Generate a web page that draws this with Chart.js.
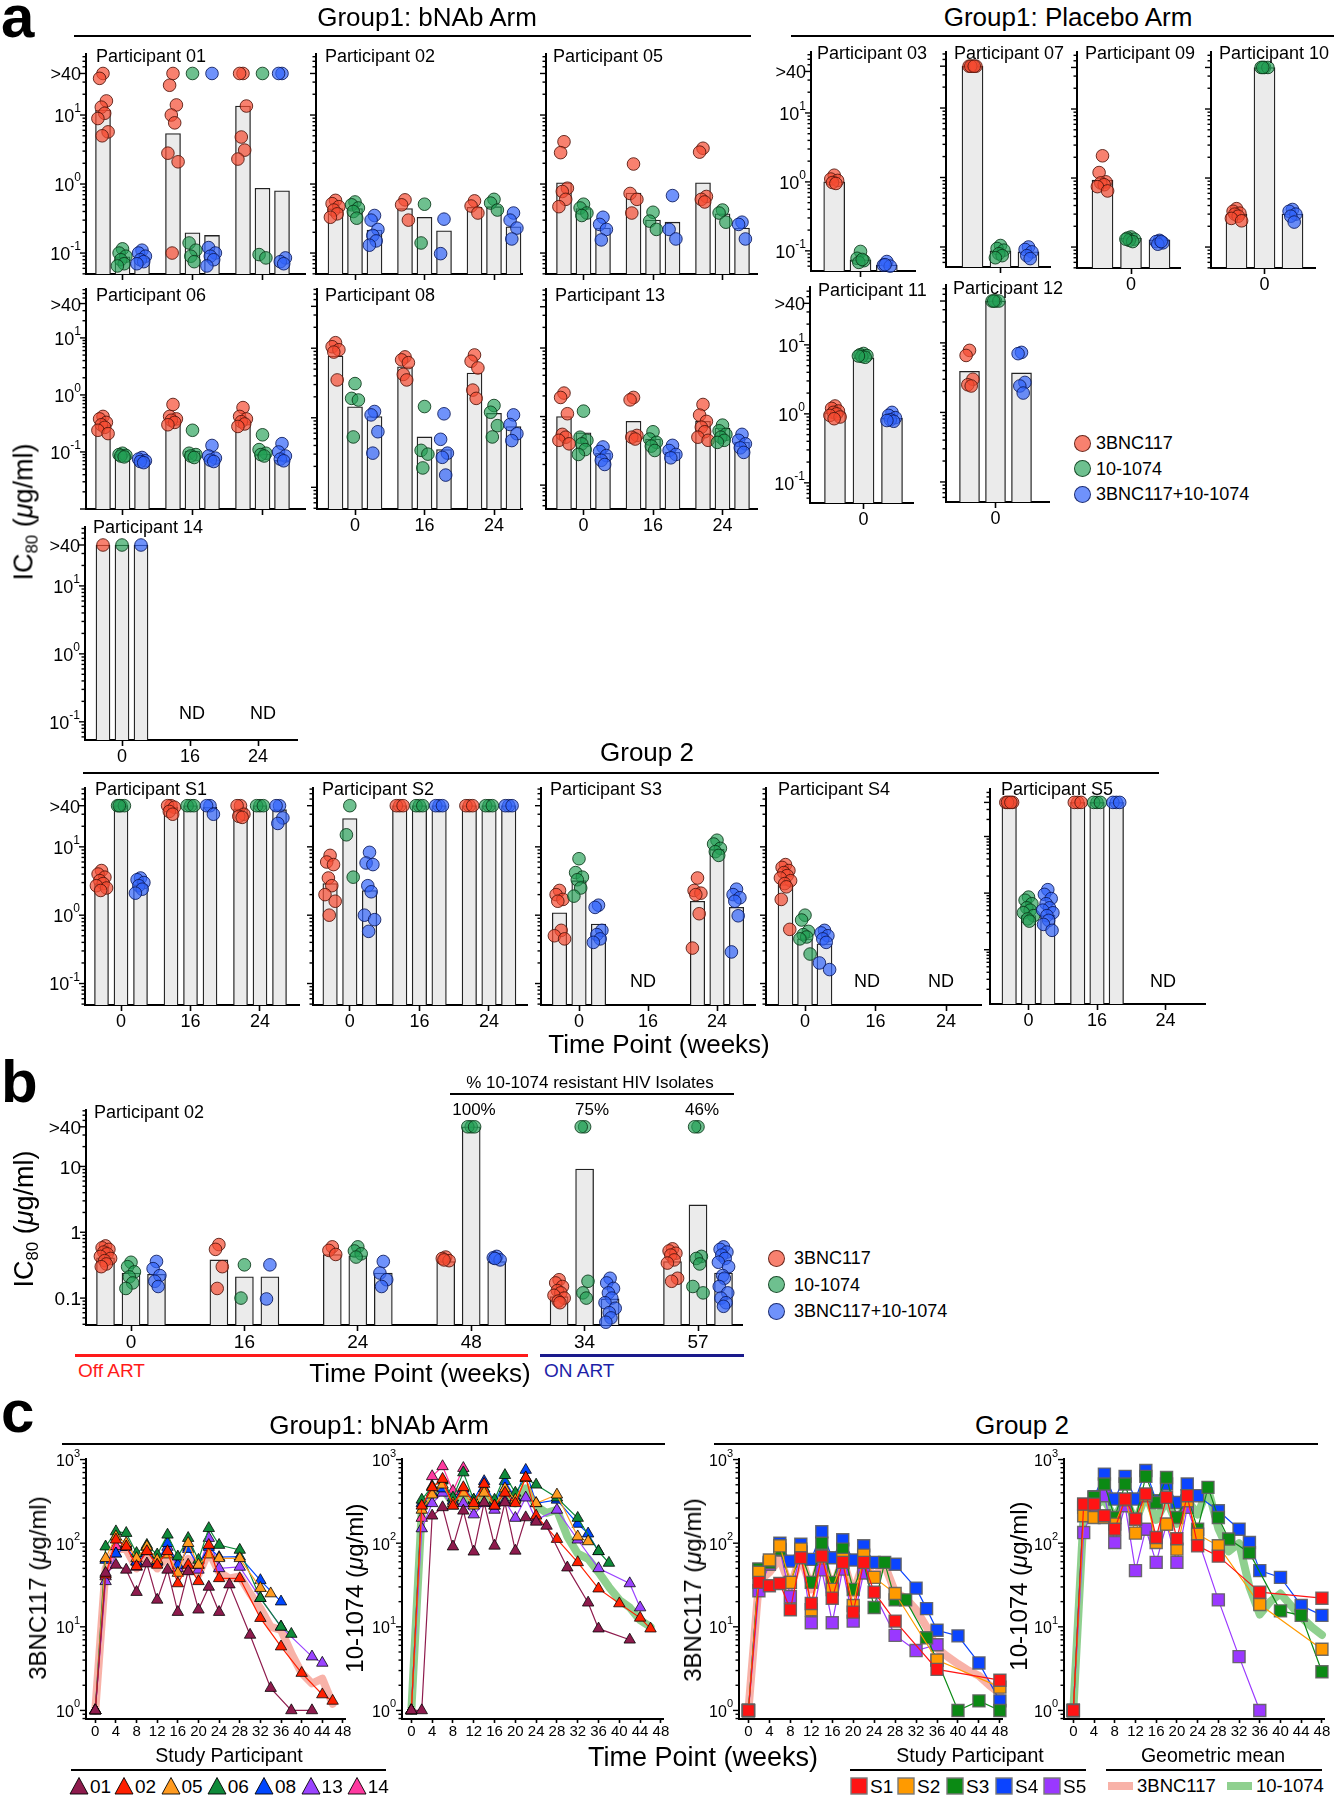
<!DOCTYPE html>
<html><head><meta charset="utf-8">
<script src="https://cdn.jsdelivr.net/npm/chart.js@4.4.1/dist/chart.umd.min.js"></script>
<style>
html,body{margin:0;padding:0;background:#fff}
body{position:relative;width:1338px;height:1800px;overflow:hidden;font-family:'Liberation Sans',Arial,Helvetica,sans-serif;color:#000}
canvas{position:absolute}
.t{position:absolute;white-space:nowrap;line-height:1;z-index:5}
.r{position:absolute;z-index:5}
</style></head><body>
<script>
// ===================== DATA =====================
const ANTIBODIES = ['3BNC117', '10-1074', '3BNC117+10-1074'];
const WEEK_LABELS_A = ['0', '16', '24'];
const WEEK_LABELS_PLACEBO = ['0'];
const WEEK_LABELS_B = ['0', '16', '24', '48', '34', '57'];
const RESISTANT_PCT = ['100%', '75%', '46%'];
const WEEK_TICKS_C = [0, 4, 8, 12, 16, 20, 24, 28, 32, 36, 40, 44, 48];
const SAMPLE_WEEKS_C = [0, 2, 4, 6, 8, 10, 12, 14, 16, 18, 20, 22, 24, 26, 28, 30, 32, 34, 36, 38, 40, 42, 44, 46, 48];
const Y_LABELS_A = [{v: 40, t: '>40'}, {v: 10, t: '10', e: '1'}, {v: 1, t: '10', e: '0'}, {v: 0.1, t: '10', e: '-1'}];
const Y_LABELS_B = [{v: 40, t: '>40'}, {v: 10, t: '10'}, {v: 1, t: '1'}, {v: 0.1, t: '0.1'}];
const Y_LABELS_C = [{v: 1000, t: '10', e: '3'}, {v: 100, t: '10', e: '2'}, {v: 10, t: '10', e: '1'}, {v: 1, t: '10', e: '0'}];

// Panel a, Group 1 bNAb arm: IC80 (ug/ml) per isolate, index = time point (wk 0, 16, 24)
const P01_3BNC117 = [[40,34,16,13,10.6,8.9,5.7,5.0],[40,27,14,10,7.7,2.8,2.1,0.1],[40,40,13.5,4.8,3.1,2.3]];
const P01_10_1074 = [[0.115,0.1,0.09,0.08,0.07,0.065],[40,0.14,0.11,0.09,0.075],[40,0.095,0.085]];
const P01_COMBO   = [[0.11,0.1,0.09,0.08,0.075,0.07],[40,0.12,0.1,0.09,0.08,0.065],[40,40,0.085,0.075,0.07]];
const P01_BARS    = [[11.8,0.088,0.085],[5.4,0.197,0.18],[13.5,0.87,0.8]];

const P02_3BNC117 = [[0.58,0.52,0.47,0.42,0.37,0.33],[0.59,0.5,0.3],[0.57,0.48,0.38]];
const P02_10_1074 = [[0.55,0.5,0.45,0.4,0.32],[0.51,0.14],[0.6,0.53,0.42]];
const P02_COMBO   = [[0.35,0.3,0.22,0.18,0.15,0.13],[0.31,0.098],[0.38,0.3,0.23,0.16]];
const P02_BARS    = [[0.44,0.44,0.215],[0.44,0.33,0.21],[0.46,0.47,0.24]];

const P05_3BNC117 = [[4.1,2.85,0.87,0.78,0.6,0.47],[1.95,0.73,0.6,0.38],[3.3,2.9,0.66,0.6,0.55]];
const P05_10_1074 = [[0.51,0.45,0.38,0.35],[0.39,0.29,0.22],[0.42,0.38,0.28]];
const P05_COMBO   = [[0.33,0.26,0.22,0.155],[0.68,0.22,0.16],[0.28,0.26,0.16]];
const P05_BARS    = [[1.04,0.44,0.23],[0.74,0.3,0.28],[1.04,0.37,0.23]];

const P06_3BNC117 = [[0.42,0.38,0.33,0.3,0.27,0.24,0.21],[0.68,0.42,0.38,0.36,0.33,0.3],[0.6,0.42,0.38,0.34,0.31,0.28]];
const P06_10_1074 = [[0.095,0.09,0.087,0.085,0.082],[0.24,0.095,0.09,0.085,0.08],[0.2,0.11,0.095,0.09,0.085]];
const P06_COMBO   = [[0.08,0.075,0.07,0.068,0.065],[0.13,0.085,0.078,0.072,0.068],[0.14,0.1,0.085,0.075,0.07]];
const P06_BARS    = [[0.3,0.092,0.071],[0.34,0.104,0.073],[0.34,0.092,0.071]];

const P08_3BNC117 = [[12,10.5,9.5,8.8,3.5],[7.5,6.8,6.2,4.2,3.5],[8,6.5,5.2,2.5,1.9]];
const P08_10_1074 = [[3.1,1.9,1.8,0.53],[1.45,0.34,0.3,0.19],[1.5,1.2,0.77,0.53]];
const P08_COMBO   = [[1.23,1.1,0.63,0.31],[1.14,0.49,0.31,0.27,0.15],[1.1,0.8,0.59,0.47]];
const P08_BARS    = [[7.7,1.44,1.04],[5.4,0.53,0.35],[4.4,1.16,0.75]];

const P13_3BNC117 = [[2.2,1.9,1.1,0.55,0.5,0.45,0.4],[1.9,1.75,0.53,0.5,0.47],[1.5,1.05,0.85,0.7,0.6,0.5,0.45]];
const P13_10_1074 = [[1.2,0.5,0.45,0.4,0.33,0.28],[0.6,0.47,0.42,0.37,0.32],[0.75,0.62,0.55,0.5,0.45,0.42]];
const P13_COMBO   = [[0.36,0.31,0.27,0.23,0.2],[0.38,0.32,0.28,0.25],[0.55,0.45,0.4,0.35,0.3]];
const P13_BARS    = [[1.0,0.58,0.29],[0.85,0.47,0.3],[0.85,0.68,0.42]];

const P14_3BNC117 = [[40], null, null];
const P14_10_1074 = [[40], null, null];
const P14_COMBO   = [[40], null, null];
const P14_BARS    = [[40,40,40], null, null];

// Panel a, Group 1 placebo arm (week 0 only)
const P03_3BNC117 = [1.25,1.1,1.05,0.98,0.95];
const P03_10_1074 = [0.098,0.078,0.072,0.068,0.075];
const P03_COMBO   = [0.07,0.062,0.06,0.063];
const P03_BARS    = [1.0,0.074,0.062];
const P07_3BNC117 = [40,40,40,40,40];
const P07_10_1074 = [0.105,0.095,0.09,0.08,0.075,0.07];
const P07_COMBO   = [0.1,0.092,0.085,0.075,0.068];
const P07_BARS    = [40,0.088,0.085];
const P09_3BNC117 = [2.1,1.2,0.88,0.85,0.8,0.75,0.65];
const P09_10_1074 = [0.14,0.135,0.13,0.125,0.12,0.13];
const P09_COMBO   = [0.125,0.12,0.115,0.11,0.12];
const P09_BARS    = [0.93,0.135,0.127];
const P10_3BNC117 = [0.36,0.33,0.31,0.3,0.28,0.26,0.24];
const P10_10_1074 = [40,40,40,40];
const P10_COMBO   = [0.35,0.33,0.3,0.28,0.23];
const P10_BARS    = [0.3,40,0.3];
const P11_3BNC117 = [1.3,1.2,1.1,1.05,1.0,0.95,0.9,0.85];
const P11_10_1074 = [7.5,7.2,7.0,6.8,6.6,6.9];
const P11_COMBO   = [1.05,0.95,0.88,0.82,0.78,0.8];
const P11_BARS    = [1.04,6.5,0.87];
const P12_3BNC117 = [7.8,6.6,3.0,2.5,2.4];
const P12_10_1074 = [40,40,40,40];
const P12_COMBO   = [7.3,7.0,2.7,2.4,1.9];
const P12_BARS    = [3.9,40,3.7];

// Panel a, Group 2 (wk 0, 16, 24); null = ND
const S1_3BNC117 = [[4.5,4.0,3.6,3.2,2.9,2.7,2.5,2.3],[40,40,38,33,30],[40,40,30,28,27]];
const S1_10_1074 = [[40,40,40,40],[40,40,40],[40,40,40]];
const S1_COMBO   = [[3.5,3.3,3.0,2.7,2.4,2.1],[40,40,30],[40,40,26.5,22]];
const S1_BARS    = [[2.9,40,2.8],[38,40,38],[36,40,35]];
const S2_3BNC117 = [[7.5,6,5.5,3.5,2.7,2.0,1.6,1.0],[40,40,40],[40,40,40]];
const S2_10_1074 = [[40,15,3.6],[40,40,40],[40,40,40]];
const S2_COMBO   = [[8.3,5.8,5.5,2.7,2.2,1.0,0.86,0.58],[40,40,40],[40,40,40]];
const S2_BARS    = [[2.9,26,2.3],[40,40,40],[40,40,40]];
const S3_3BNC117 = [[2.3,2.0,1.7,1.6,0.6,0.5,0.45],null,[3.5,2.3,2.1,2.0,1.05,0.33]];
const S3_10_1074 = [[6.7,4.2,3.6,3.3,2.5,1.9],null,[12.5,11,9.5,8.5,7.5]];
const S3_COMBO   = [[1.4,1.3,0.6,0.52,0.45,0.4],null,[2.4,2.0,1.8,1.6,0.98,0.29]];
const S3_BARS    = [[1.08,3.2,0.74],null,[1.6,9.2,1.3]];
const S4_3BNC117 = [[5.5,5.0,4.5,4.2,3.8,3.5,3.2,2.9,2.6,1.7,0.62],null,null];
const S4_10_1074 = [[1.0,0.85,0.58,0.52,0.48,0.45,0.27],null,null];
const S4_COMBO   = [[0.6,0.55,0.5,0.45,0.4,0.2,0.16],null,null];
const S4_BARS    = [[2.8,0.45,0.38],null,null];
const S5_3BNC117 = [[40,40,40,40,40],[40,40,40],null];
const S5_10_1074 = [[0.85,0.75,0.65,0.55,0.5,0.45,0.4,0.35,0.32],[40,40,40],null];
const S5_COMBO   = [[1.15,0.95,0.8,0.65,0.55,0.5,0.45,0.4,0.33,0.28,0.22],[40,40,40],null];
const S5_BARS    = [[40,0.4,0.41],[40,40,40],null];

// Panel b, participant 02 (wk 0,16,24,48 off ART; 34,57 on ART)
const B_3BNC117 = [[0.62,0.58,0.55,0.5,0.47,0.43,0.4,0.37,0.33,0.3],[0.65,0.55,0.3,0.14],[0.6,0.53,0.46],[0.42,0.4,0.37,0.38],[0.19,0.17,0.15,0.13,0.12,0.11,0.1,0.09,0.085],[0.56,0.52,0.48,0.45,0.38,0.34,0.2,0.18]];
const B_10_1074 = [[0.35,0.3,0.25,0.21,0.17,0.14],[0.32,0.1],[0.6,0.52,0.47,0.42],[40,40,40],[40,40,0.18,0.12,0.1],[40,40,0.43,0.4,0.33,0.15,0.12]];
const B_COMBO   = [[0.36,0.28,0.22,0.18,0.15],[0.32,0.097],[0.36,0.24,0.19,0.15],[0.43,0.41,0.38,0.4],[0.2,0.17,0.14,0.12,0.1,0.085,0.07,0.06,0.05,0.043],[0.6,0.55,0.5,0.45,0.4,0.35,0.3,0.22,0.2,0.15,0.12,0.1,0.085,0.075]];
const B_BARS    = [[0.41,0.24,0.23],[0.38,0.21,0.21],[0.46,0.44,0.24],[0.36,40,0.36],[0.105,9.1,0.097],[0.36,2.6,0.24]];

// Panel c: serum levels (ug/ml) at SAMPLE_WEEKS_C; null = no sample
const N = null;
const C1_P01 = [1,44,55,48,26,57,21,48,15,46,16,30,15,32,N,8,N,1.85,N,1.0,N,1.0,N,N,N];
const C1_P02 = [1,42,110,91,53,80,55,80,33,55,35,95,38,N,38,N,12.7,N,5.8,N,2.8,N,1.55,1.3,N];
const C1_P05 = [1,66,120,100,66,91,63,73,44,100,55,73,66,N,66,N,29,25,N,N,N,N,N,N,N];
const C1_P06 = [1,91,138,132,76,95,73,126,69,115,63,151,95,N,83,N,22,N,10,8.2,N,N,N,N,N];
const C1_P08 = [1,63,75,90,60,80,60,100,55,85,55,90,68,N,69,N,36,N,20,N,N,N,N,N,N];
const C1_P13 = [1,35,75,90,60,90,60,90,50,90,48,115,50,N,52,N,22,N,10,N,N,4.4,3.7,N,N];
const C1_P14 = [1,40,92,95,52,80,N,N,N,N,N,N,N,N,N,N,N,N,N,N,N,N,N,N,N];
const C1_MEAN = [1,50,85,85,50,70,50,70,42,65,42,80,45,38,40,25,16.7,10,9.2,4.8,2.8,2.1,2.4,1.2,N];

const C2_P01 = [1,1,213,268,91,244,79,306,93,306,81,203,180,161,N,51,N,19.4,9.5,N,N,7.0,N,N,N];
const C2_P02 = [1,280,465,585,280,465,300,510,280,400,300,610,213,N,112,N,59,N,28.6,N,19,N,12.8,9.5,N];
const C2_P05 = [1,250,380,500,300,400,280,400,280,450,330,600,300,N,380,N,120,105,N,N,N,N,N,N,N];
const C2_P06 = [1,330,480,560,350,700,330,450,330,650,400,600,500,N,350,N,200,N,80,58,N,N,N,N,N];
const C2_P08 = [1,300,400,450,320,450,330,550,300,550,350,750,300,N,330,N,170,130,80,N,N,N,N,N,N];
const C2_P13 = [1,150,300,400,280,300,220,300,250,320,200,350,190,N,250,N,110,N,50,N,N,33,17,N,N];
const C2_P14 = [1,200,630,830,420,790,N,N,N,N,N,N,N,N,N,N,N,N,N,N,N,N,N,N,N];
const C2_MEAN = [1,250,380,450,300,420,280,400,280,420,300,450,280,230,250,120,75,65,45,30,21,17,12,10,N];

const C3_S1 = [1,34,31,33,16,67,19,70,22,59,15,59,26,N,11.7,N,N,N,3.1,N,N,N,N,N,2.3];
const C3_S2 = [1,45,63,93,34,85,16,70,28,64,18,72,39,N,25,N,N,N,4,N,N,N,N,N,1.9];
const C3_S3 = [1,49,59,85,34,77,34,100,34,85,28,59,17,59,21,21,N,7.4,4,N,1.0,N,1.3,N,1.0];
const C3_S4 = [1,49,59,100,61,97,64,137,67,110,63,93,59,N,56,N,29,16.5,9.1,N,7.8,N,3.7,N,1.3];
const C3_S5 = [1,27,56,83,23,79,11.2,48,11.2,49,11.7,44,N,N,7.9,N,5.2,N,6.1,N,N,N,N,N,N];
const C3_MEAN = [1,35,45,65,30,70,28,72,28,65,25,60,40,55,26,22,16,10,5.5,4.4,3.6,3,2.6,2.0,1.6];

const C4_S1 = [1,293,293,213,147,337,194,388,117,353,113,370,93,N,70,N,N,N,26,N,N,N,N,N,22];
const C4_S2 = [1,213,203,203,169,330,132,370,102,169,85,322,128,N,93,N,N,N,18.5,N,N,N,N,N,5.4];
const C4_S3 = [1,268,353,510,203,510,194,630,307,610,203,370,147,465,203,112,N,77,N,N,15.5,N,13.7,N,2.9];
const C4_S4 = [1,293,360,670,337,630,337,740,322,510,307,510,370,N,244,N,147,102,47,N,39,N,18,N,13.7];
const C4_S5 = [1,134,280,370,102,280,47,147,59,169,59,268,N,N,21,N,4.4,N,1.0,N,N,N,N,N,N];
const C4_MEAN = [1,230,280,330,200,350,180,380,190,330,170,330,220,450,150,80,100,30,14,20,25,18,13,10,8];

const G1_IDS = ['01', '02', '05', '06', '08', '13', '14'];
const G2_IDS = ['S1', 'S2', 'S3', 'S4', 'S5'];

// ===================== STYLE / LAYOUT =====================
const FONT = "'Liberation Sans', Arial, Helvetica, sans-serif";
Chart.defaults.font.family = FONT;
Chart.defaults.color = '#000';
const LW = 60, BH = 34, PT = 16, PR = 16;
const G1_COLORS = ['#8e1b4d', '#ff2000', '#ff9b21', '#0f8a3a', '#0047ff', '#9a44ff', '#ff3aa0'];
const G2_COLORS = ['#ff1414', '#ff9a00', '#0b8a14', '#0b44ff', '#9a38ff'];
const PT_STYLE = [
  {bg: 'rgba(245,75,50,0.70)', bd: 'rgba(80,20,10,0.85)'},
  {bg: 'rgba(35,160,85,0.66)', bd: 'rgba(10,55,25,0.85)'},
  {bg: 'rgba(50,100,250,0.70)', bd: 'rgba(10,25,90,0.85)'}
];
const JIT = [0, -1, 1, -0.5, 0.5, -1.5, 1.5, -0.25, 0.25, -1.25, 1.25, -0.75, 0.75, 0];

const logAxisPlugin = {
  id: 'logAxis',
  afterDraw(chart) {
    const o = chart.canvas._logAxis; if (!o) return;
    const s = chart.scales.y, ctx = chart.ctx, x0 = chart.chartArea.left;
    ctx.save();
    ctx.strokeStyle = '#000'; ctx.lineWidth = 1.4;
    const e0 = Math.floor(Math.log10(s.min)), e1 = Math.ceil(Math.log10(s.max));
    const mv = o.labels.map(l => l.v);
    for (let e = e0; e <= e1; e++) {
      for (let m = 1; m <= 9; m++) {
        const v = m * Math.pow(10, e);
        if (v < s.min * 0.9999 || v > s.max * 1.0001) continue;
        const y = s.getPixelForValue(v);
        const major = m === 1 || mv.some(q => Math.abs(q - v) < v * 1e-6);
        const len = major ? o.major : o.minor;
        ctx.beginPath(); ctx.moveTo(x0 - len, y); ctx.lineTo(x0, y); ctx.stroke();
      }
    }
    if (o.show) {
      ctx.fillStyle = '#000'; ctx.textBaseline = 'middle';
      const xr = x0 - o.gap;
      for (const L of o.labels) {
        const y = s.getPixelForValue(L.v);
        let xr2 = xr;
        if (L.e) {
          ctx.font = o.es + 'px ' + FONT; ctx.textAlign = 'right';
          ctx.fillText(L.e, xr, y + o.eDy);
          xr2 = xr - ctx.measureText(L.e).width;
        }
        ctx.font = o.fs + 'px ' + FONT; ctx.textAlign = 'right';
        ctx.fillText(L.t, xr2, y + o.bDy);
      }
    }
    ctx.restore();
  }
};
Chart.register(logAxisPlugin);

function canvasAt(axisX, top, right, bottom) {
  axisX = Math.round(axisX); top = Math.round(top); right = Math.round(right); bottom = Math.round(bottom);
  const c = document.createElement('canvas');
  const w = right - axisX + LW + PR, h = bottom - top + PT + BH;
  c.width = w; c.height = h;
  c.style.left = (axisX - LW) + 'px'; c.style.top = (top - PT) + 'px';
  c.style.width = w + 'px'; c.style.height = h + 'px';
  document.body.appendChild(c);
  return c;
}
function yLog(min, max) {
  return {type: 'logarithmic', min, max, ticks: {display: false}, grid: {display: false, drawTicks: false},
    border: {display: true, color: '#000', width: 2}, afterFit: s => { s.width = LW; }};
}
function xLin(min, max, tickVals, labels, fs, tl) {
  return {type: 'linear', min, max, offset: false,
    afterBuildTicks: s => { s.ticks = tickVals.map(v => ({value: v})); },
    ticks: {display: !!labels, autoSkip: false, maxRotation: 0, minRotation: 0, padding: 0,
      font: {size: fs, family: FONT}, color: '#000', callback: (v, i) => (labels ? labels[i] : '')},
    grid: {display: true, offset: false, drawOnChartArea: false, drawTicks: true, tickLength: tl, tickColor: '#000', tickWidth: 1.6},
    border: {display: true, color: '#000', width: 2},
    afterFit: s => { s.height = BH; }};
}
function baseOpts(xs, ys) {
  return {responsive: false, animation: false, devicePixelRatio: 1, events: [],
    layout: {padding: {top: PT, right: PR, left: 0, bottom: 0}, autoPadding: false},
    plugins: {legend: {display: false}, tooltip: {enabled: false}},
    scales: {x: xs, y: ys}};
}

function barPanel(sp, series, bars, xLabels, yLabels, axisFs) {
  const c = canvasAt(sp.axisX, sp.top, sp.right, sp.bottom);
  const u = sp.unit, offU = sp.off / u, jit = 3.4 / u;
  const barData = [];
  bars.forEach((b, g) => { if (b) b.forEach((v, k) => barData.push({x: g + (k - 1) * offU, y: v})); });
  const ds = [{type: 'bar', data: barData, backgroundColor: '#ebebeb', borderColor: '#222', borderWidth: 1.3,
    borderSkipped: 'start', barThickness: sp.bw, order: 10}];
  series.forEach((s, k) => {
    const pts = [];
    s.forEach((arr, g) => { if (arr) arr.forEach((v, i) => pts.push({x: g + (k - 1) * offU + JIT[i % JIT.length] * jit, y: v})); });
    ds.push({type: 'scatter', data: pts, pointRadius: 6.3, pointBackgroundColor: PT_STYLE[k].bg,
      pointBorderColor: PT_STYLE[k].bd, pointBorderWidth: 1, clip: false, order: 3 - k});
  });
  const ticks = bars.map((b, g) => g);
  c._logAxis = {labels: yLabels || Y_LABELS_A, show: !!yLabels, major: 6, minor: 3.5, gap: 5,
    fs: axisFs || 18, es: 12, bDy: 2, eDy: -6};
  new Chart(c, {type: 'scatter', data: {datasets: ds},
    options: baseOpts(xLin((sp.axisX - sp.g0) / u, (sp.right - sp.g0) / u, ticks, xLabels, axisFs || 18, 6), yLog(sp.yMin, sp.yMax))});
}

function linePanel(sp, series, colors, style, mean, meanColor) {
  const c = canvasAt(sp.axisX, sp.top, sp.right, sp.bottom);
  const toPts = arr => SAMPLE_WEEKS_C.map((w, i) => ({x: w, y: arr[i]})).filter(p => p.y !== null && p.y !== undefined);
  const ds = [];
  series.forEach((arr, k) => {
    ds.push({type: 'line', data: toPts(arr), borderColor: colors[k], borderWidth: 1.2, tension: 0,
      pointStyle: style, pointRadius: style === 'rect' ? 8.5 : 6.6, pointBackgroundColor: colors[k],
      pointBorderColor: style === 'rect' ? 'rgba(95,95,95,0.9)' : 'rgba(0,0,0,0.85)', pointBorderWidth: style === 'rect' ? 1.4 : 0.9,
      clip: false, order: k + 1});
  });
  ds.push({type: 'line', data: toPts(mean), borderColor: meanColor, borderWidth: 8, tension: 0, pointRadius: 0,
    borderJoinStyle: 'round', borderCapStyle: 'round', spanGaps: true, clip: false, order: 50});
  c._logAxis = {labels: Y_LABELS_C, show: true, major: 6, minor: 3.5, gap: 6, fs: 16, es: 11, bDy: 2, eDy: -6};
  new Chart(c, {type: 'scatter', data: {datasets: ds},
    options: baseOpts(xLin(sp.xmin, sp.xmax, WEEK_TICKS_C, WEEK_TICKS_C.map(String), 15, 4), yLog(sp.yMin, sp.yMax))});
}

// ---------- text helpers ----------
function T(html, x, y, size, o) {
  o = o || {};
  const d = document.createElement('div');
  d.className = 't'; d.innerHTML = html;
  d.style.left = x + 'px'; d.style.top = y + 'px'; d.style.fontSize = size + 'px';
  if (o.bold) d.style.fontWeight = 'bold';
  if (o.color) d.style.color = o.color;
  const a = o.align || 'left';
  const tx = a === 'center' ? '-50%' : a === 'right' ? '-100%' : '0';
  d.style.transform = 'translate(' + tx + ',-50%)' + (o.rot ? ' rotate(' + o.rot + 'deg)' : '');
  document.body.appendChild(d);
}
function HL(x1, x2, y, th, color) {
  const d = document.createElement('div'); d.className = 'r';
  d.style.left = x1 + 'px'; d.style.top = (y - th / 2) + 'px'; d.style.width = (x2 - x1) + 'px';
  d.style.height = th + 'px'; d.style.background = color || '#000';
  document.body.appendChild(d);
}
function dot(x, y, k) {
  const d = document.createElement('div'); d.className = 'r';
  d.style.left = (x - 8.5) + 'px'; d.style.top = (y - 8.5) + 'px'; d.style.width = '15px'; d.style.height = '15px';
  d.style.borderRadius = '50%'; d.style.background = PT_STYLE[k].bg; d.style.border = '1px solid ' + PT_STYLE[k].bd;
  document.body.appendChild(d);
}
function svgMarker(x, y, color, shape) {
  const d = document.createElement('div'); d.className = 'r';
  d.style.left = (x - 10) + 'px'; d.style.top = (y - 10) + 'px';
  const inner = shape === 'tri'
    ? '<polygon points="10,1.5 19,18 1,18" fill="' + color + '" stroke="#000" stroke-width="0.9"/>'
    : '<rect x="2" y="2" width="16" height="16" fill="' + color + '" stroke="#777" stroke-width="1.4"/>';
  d.innerHTML = '<svg width="20" height="20" xmlns="http://www.w3.org/2000/svg">' + inner + '</svg>';
  document.body.appendChild(d);
}

// ===================== PANEL A =====================
const SP = {
  P01: {axisX: 86, top: 54, right: 305, bottom: 274, g0: 122.5, unit: 70, off: 19.5, bw: 15, yMin: 0.0497, yMax: 76.6},
  P02: {axisX: 316, top: 54, right: 522, bottom: 274, g0: 355, unit: 69.5, off: 19.5, bw: 15, yMin: 0.0497, yMax: 76.6},
  P05: {axisX: 546, top: 54, right: 757, bottom: 274, g0: 583.5, unit: 69.5, off: 19.5, bw: 15, yMin: 0.0497, yMax: 76.6},
  P06: {axisX: 86, top: 289, right: 305, bottom: 509, g0: 122.5, unit: 70, off: 19.5, bw: 15, yMin: 0.01, yMax: 72},
  P08: {axisX: 317, top: 289, right: 522, bottom: 509, g0: 355, unit: 69.5, off: 19.5, bw: 15, yMin: 0.0488, yMax: 71},
  P13: {axisX: 546, top: 289, right: 757, bottom: 509, g0: 583.5, unit: 69.5, off: 19.5, bw: 15, yMin: 0.0448, yMax: 72.6},
  P14: {axisX: 85, top: 527, right: 297, bottom: 740, g0: 122, unit: 68, off: 19, bw: 14, yMin: 0.054, yMax: 73.6},
  P03: {axisX: 811, top: 52, right: 915, bottom: 271, g0: 860.5, unit: 100, off: 26.3, bw: 21, yMin: 0.051, yMax: 76.6},
  P07: {axisX: 946, top: 52, right: 1050, bottom: 267, g0: 1000.5, unit: 100, off: 28, bw: 21, yMin: 0.0515, yMax: 64},
  P09: {axisX: 1077, top: 52, right: 1180, bottom: 268, g0: 1131, unit: 100, off: 28.5, bw: 21, yMin: 0.0497, yMax: 67},
  P10: {axisX: 1211, top: 52, right: 1315, bottom: 268, g0: 1264.5, unit: 100, off: 28, bw: 21, yMin: 0.0497, yMax: 67},
  P11: {axisX: 810, top: 287, right: 913, bottom: 503, g0: 863.5, unit: 100, off: 28.5, bw: 21, yMin: 0.051, yMax: 69},
  P12: {axisX: 946, top: 285, right: 1049, bottom: 502, g0: 995.5, unit: 100, off: 26, bw: 20, yMin: 0.0515, yMax: 68},
  S1: {axisX: 85, top: 788, right: 299, bottom: 1005, g0: 121, unit: 69.5, off: 19.5, bw: 14, yMin: 0.0485, yMax: 72.6},
  S2: {axisX: 313, top: 788, right: 527, bottom: 1005, g0: 349.8, unit: 69.6, off: 19.7, bw: 14.5, yMin: 0.0485, yMax: 72.6},
  S3: {axisX: 541, top: 788, right: 755, bottom: 1005, g0: 579, unit: 69, off: 19.5, bw: 14.5, yMin: 0.0485, yMax: 72.6},
  S4: {axisX: 766, top: 788, right: 981, bottom: 1005, g0: 805, unit: 70.5, off: 19.5, bw: 15, yMin: 0.0485, yMax: 72.6},
  S5: {axisX: 990, top: 789, right: 1205, bottom: 1004, g0: 1028.5, unit: 68.5, off: 19.3, bw: 14.5, yMin: 0.011, yMax: 69},
  B: {axisX: 86, top: 1110, right: 742, bottom: 1325, g0: 131, unit: 113.4, off: 25.5, bw: 18, yMin: 0.039, yMax: 72}
};

barPanel(SP.P01, [P01_3BNC117, P01_10_1074, P01_COMBO], P01_BARS, null, Y_LABELS_A);
barPanel(SP.P02, [P02_3BNC117, P02_10_1074, P02_COMBO], P02_BARS, null, null);
barPanel(SP.P05, [P05_3BNC117, P05_10_1074, P05_COMBO], P05_BARS, null, null);
barPanel(SP.P06, [P06_3BNC117, P06_10_1074, P06_COMBO], P06_BARS, null, Y_LABELS_A);
barPanel(SP.P08, [P08_3BNC117, P08_10_1074, P08_COMBO], P08_BARS, WEEK_LABELS_A, null);
barPanel(SP.P13, [P13_3BNC117, P13_10_1074, P13_COMBO], P13_BARS, WEEK_LABELS_A, null);
barPanel(SP.P14, [P14_3BNC117, P14_10_1074, P14_COMBO], P14_BARS, WEEK_LABELS_A, Y_LABELS_A);
barPanel(SP.P03, [[P03_3BNC117], [P03_10_1074], [P03_COMBO]], [P03_BARS], null, Y_LABELS_A);
barPanel(SP.P07, [[P07_3BNC117], [P07_10_1074], [P07_COMBO]], [P07_BARS], null, null);
barPanel(SP.P09, [[P09_3BNC117], [P09_10_1074], [P09_COMBO]], [P09_BARS], WEEK_LABELS_PLACEBO, null);
barPanel(SP.P10, [[P10_3BNC117], [P10_10_1074], [P10_COMBO]], [P10_BARS], WEEK_LABELS_PLACEBO, null);
barPanel(SP.P11, [[P11_3BNC117], [P11_10_1074], [P11_COMBO]], [P11_BARS], WEEK_LABELS_PLACEBO, Y_LABELS_A);
barPanel(SP.P12, [[P12_3BNC117], [P12_10_1074], [P12_COMBO]], [P12_BARS], WEEK_LABELS_PLACEBO, null);
barPanel(SP.S1, [S1_3BNC117, S1_10_1074, S1_COMBO], S1_BARS, WEEK_LABELS_A, Y_LABELS_A);
barPanel(SP.S2, [S2_3BNC117, S2_10_1074, S2_COMBO], S2_BARS, WEEK_LABELS_A, null);
barPanel(SP.S3, [S3_3BNC117, S3_10_1074, S3_COMBO], S3_BARS, WEEK_LABELS_A, null);
barPanel(SP.S4, [S4_3BNC117, S4_10_1074, S4_COMBO], S4_BARS, WEEK_LABELS_A, null);
barPanel(SP.S5, [S5_3BNC117, S5_10_1074, S5_COMBO], S5_BARS, WEEK_LABELS_A, null);

// ===================== PANEL B =====================
barPanel(SP.B, [B_3BNC117, B_10_1074, B_COMBO], B_BARS, WEEK_LABELS_B, Y_LABELS_B, 19);

// ===================== PANEL C =====================
const CSP = {
  C1: {axisX: 86, top: 1459, right: 345, bottom: 1719, xmin: -1.8, xmax: 48.4, yMin: 0.79, yMax: 1016},
  C2: {axisX: 402, top: 1459, right: 663, bottom: 1719, xmin: -1.8, xmax: 48.4, yMin: 0.79, yMax: 1016},
  C3: {axisX: 739, top: 1459, right: 1002, bottom: 1719, xmin: -1.8, xmax: 48.4, yMin: 0.79, yMax: 1016},
  C4: {axisX: 1064, top: 1459, right: 1324, bottom: 1719, xmin: -1.8, xmax: 48.4, yMin: 0.79, yMax: 1016}
};
const MEAN_PINK = 'rgba(244,130,115,0.62)', MEAN_GREEN = 'rgba(90,185,90,0.68)';
linePanel(CSP.C1, [C1_P01, C1_P02, C1_P05, C1_P06, C1_P08, C1_P13, C1_P14], G1_COLORS, 'triangle', C1_MEAN, MEAN_PINK);
linePanel(CSP.C2, [C2_P01, C2_P02, C2_P05, C2_P06, C2_P08, C2_P13, C2_P14], G1_COLORS, 'triangle', C2_MEAN, MEAN_GREEN);
linePanel(CSP.C3, [C3_S1, C3_S2, C3_S3, C3_S4, C3_S5], G2_COLORS, 'rect', C3_MEAN, MEAN_PINK);
linePanel(CSP.C4, [C4_S1, C4_S2, C4_S3, C4_S4, C4_S5], G2_COLORS, 'rect', C4_MEAN, MEAN_GREEN);

// ===================== TEXT =====================
const IC80 = 'IC<span style="font-size:0.62em;position:relative;top:0.28em">80</span> (<i>μ</i>g/ml)';
// panel a
T('a', 1, 17, 60, {bold: true});
T('Group1: bNAb Arm', 427, 17, 26, {align: 'center'});
HL(74, 751, 36, 2);
T('Group1: Placebo Arm', 1068, 17, 26, {align: 'center'});
HL(791, 1334, 36, 2);
[['Participant 01', 96, 56], ['Participant 02', 325, 56], ['Participant 05', 553, 56],
 ['Participant 06', 96, 295], ['Participant 08', 325, 295], ['Participant 13', 555, 295],
 ['Participant 14', 93, 527],
 ['Participant 03', 817, 53], ['Participant 07', 954, 53], ['Participant 09', 1085, 53], ['Participant 10', 1219, 53],
 ['Participant 11', 818, 290], ['Participant 12', 953, 288],
 ['Participant S1', 95, 789], ['Participant S2', 322, 789], ['Participant S3', 550, 789],
 ['Participant S4', 778, 789], ['Participant S5', 1001, 789],
 ['Participant 02', 94, 1112]].forEach(p => T(p[0], p[1], p[2], 18));
[['ND', 192, 713], ['ND', 263, 713], ['ND', 643, 981], ['ND', 867, 981], ['ND', 941, 981], ['ND', 1163, 981]]
  .forEach(p => T(p[0], p[1], p[2], 18, {align: 'center'}));
T(IC80, 24, 512, 27, {align: 'center', rot: -90});
ANTIBODIES.forEach((a, k) => { dot(1082, 443 + k * 25.5, k); T(a, 1096, 443 + k * 25.5, 18); });
T('Group 2', 647, 752, 26, {align: 'center'});
HL(83, 1159, 773, 2);
T('Time Point (weeks)', 659, 1044, 26, {align: 'center'});
// panel b
T('b', 1, 1082, 60, {bold: true});
T('% 10-1074 resistant HIV Isolates', 590, 1082, 17, {align: 'center'});
HL(450, 734, 1094, 2);
[[474, 0], [592, 1], [702, 2]].forEach(p => T(RESISTANT_PCT[p[1]], p[0], 1109, 17, {align: 'center'}));
HL(75, 528, 1355, 3, '#ff1a1a');
HL(540, 744, 1355, 3, '#1a1a8c');
T('Off ART', 78, 1370, 19, {color: '#ff1a1a'});
T('ON ART', 544, 1370, 19, {color: '#1f1fa8'});
T('Time Point (weeks)', 420, 1373, 26, {align: 'center'});
T(IC80, 24, 1219, 27, {align: 'center', rot: -90});
ANTIBODIES.forEach((a, k) => { dot(776, 1258 + k * 26.5, k); T(a, 794, 1258 + k * 26.5, 18); });
// panel c
T('c', 1, 1412, 60, {bold: true});
T('Group1: bNAb Arm', 379, 1425, 26, {align: 'center'});
HL(62, 665, 1444, 2);
T('Group 2', 1022, 1425, 26, {align: 'center'});
HL(714, 1318, 1444, 2);
const UG = ' (<i>μ</i>g/ml)';
T('3BNC117' + UG, 38, 1588, 24, {align: 'center', rot: -90});
T('10-1074' + UG, 355, 1588, 24, {align: 'center', rot: -90});
T('3BNC117' + UG, 693, 1590, 24, {align: 'center', rot: -90});
T('10-1074' + UG, 1019, 1586, 24, {align: 'center', rot: -90});
T('Time Point (weeks)', 703, 1757, 27, {align: 'center'});
T('Study Participant', 229, 1756, 19.5, {align: 'center'});
HL(71, 386, 1770, 2);
[79, 124, 170.5, 216.7, 264, 310.6, 356.8].forEach((x, k) => { svgMarker(x, 1786, G1_COLORS[k], 'tri'); T(G1_IDS[k], x + 11, 1786, 19); });
T('Study Participant', 970, 1756, 19.5, {align: 'center'});
HL(850, 1086, 1770, 2);
[859, 906, 955, 1004, 1052].forEach((x, k) => { svgMarker(x, 1786, G2_COLORS[k], 'sq'); T(G2_IDS[k], x + 11, 1786, 19); });
T('Geometric mean', 1213, 1756, 19.5, {align: 'center'});
HL(1106, 1322, 1770, 2);
HL(1108, 1133, 1786, 8, MEAN_PINK);
T('3BNC117', 1137, 1786, 18.5);
HL(1227, 1252, 1786, 8, MEAN_GREEN);
T('10-1074', 1256, 1786, 18.5);
</script>
</body></html>
